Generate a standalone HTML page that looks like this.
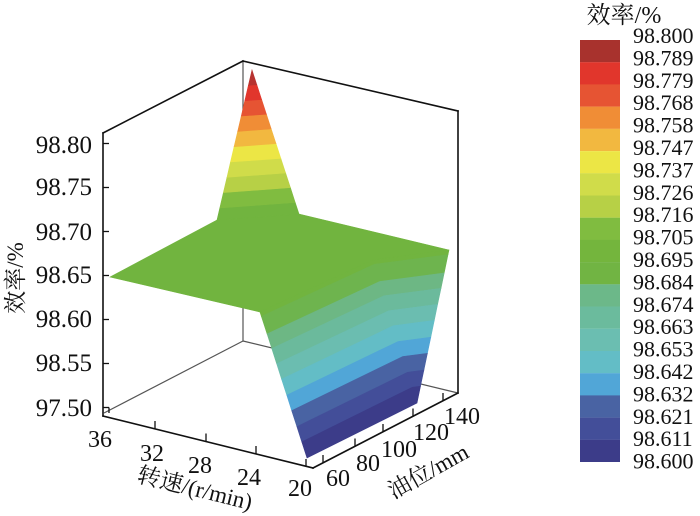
<!DOCTYPE html>
<html>
<head>
<meta charset="utf-8">
<style>
  html, body { margin: 0; padding: 0; background: #ffffff; }
  svg { display: block; }
  text { font-family: "Liberation Serif", "Noto Serif CJK SC", serif; fill: #111; }
</style>
</head>
<body>
<svg width="700" height="516" viewBox="0 0 700 516" xmlns="http://www.w3.org/2000/svg">
  <rect x="0" y="0" width="700" height="516" fill="#ffffff"/>

  <!-- back grid lines (behind surface) -->
  <g stroke="#555" stroke-width="1.2" fill="none">
    <line x1="243" y1="61" x2="243" y2="341"/>
    <line x1="243" y1="341" x2="104" y2="413"/>
    <line x1="243" y1="341" x2="458" y2="393"/>
  </g>

  <!-- flat green plateau -->
  <polygon points="110,277 217,220 299,214 449,250 373,260 260,312" fill="#71b43f" stroke="#71b43f" stroke-width="0.6"/>

  <!-- drop region bands -->
  <g stroke-width="0.6">
    <polygon points="260,312 373,260 449,250 448,254.6 374.3,264.3 261.4,316.4" fill="#71b43f" stroke="#71b43f"/>
    <polygon points="261.4,316.4 374.3,264.3 448,254.6 444.2,273 379.6,281.5 267.1,333.9" fill="#6eb44e" stroke="#6eb44e"/>
    <polygon points="267.1,333.9 379.6,281.5 444.2,273 441,288.3 384,295.8 271.8,348.5" fill="#6db784" stroke="#6db784"/>
    <polygon points="271.8,348.5 384,295.8 441,288.3 437.6,304.3 388.6,310.8 276.7,363.8" fill="#6bba9c" stroke="#6bba9c"/>
    <polygon points="276.7,363.8 388.6,310.8 437.6,304.3 434.3,320.4 393.2,325.8 281.6,379.2" fill="#6bbdb0" stroke="#6bbdb0"/>
    <polygon points="281.6,379.2 393.2,325.8 434.3,320.4 430.8,337.2 398.1,341.5 286.8,395.2" fill="#63bdc6" stroke="#63bdc6"/>
    <polygon points="286.8,395.2 398.1,341.5 430.8,337.2 427.4,353.3 402.7,356.5 291.7,410.6" fill="#51a6d7" stroke="#51a6d7"/>
    <polygon points="291.7,410.6 402.7,356.5 427.4,353.3 423.9,370.1 407.5,372.3 296.9,426.6" fill="#4963a3" stroke="#4963a3"/>
    <polygon points="296.9,426.6 407.5,372.3 423.9,370.1 420.5,386.2 412.2,387.3 301.8,441.9" fill="#434e99" stroke="#434e99"/>
    <polygon points="301.8,441.9 412.2,387.3 420.5,386.2 417,403 307,458" fill="#3c3c89" stroke="#3c3c89"/>
  </g>

  <!-- peak bands -->
  <g stroke-width="0.6">
    <polygon points="217,220 299,214 295.2,202.5 219.8,208" fill="#71b43f" stroke="#71b43f"/>
    <polygon points="219.8,208 295.2,202.5 290.4,187.6 223.4,192.6" fill="#80bc40" stroke="#80bc40"/>
    <polygon points="223.4,192.6 290.4,187.6 285.6,173 227,177.3" fill="#b7d046" stroke="#b7d046"/>
    <polygon points="227,177.3 285.6,173 280.8,158.3 230.5,162" fill="#d0dc4a" stroke="#d0dc4a"/>
    <polygon points="230.5,162 280.8,158.3 276,143.6 234.1,146.7" fill="#ece645" stroke="#ece645"/>
    <polygon points="234.1,146.7 276,143.6 271.2,128.9 237.7,131.4" fill="#f2b840" stroke="#f2b840"/>
    <polygon points="237.7,131.4 271.2,128.9 266.4,114.2 241.3,116" fill="#f08d36" stroke="#f08d36"/>
    <polygon points="241.3,116 266.4,114.2 261.6,99.5 244.8,100.8" fill="#e65433" stroke="#e65433"/>
    <polygon points="244.8,100.8 261.6,99.5 256.8,84.7 248.4,85.3" fill="#e1362c" stroke="#e1362c"/>
    <polygon points="248.4,85.3 256.8,84.7 252,70" fill="#b73330" stroke="#b73330"/>
  </g>

  <!-- front box lines -->
  <g stroke="#111" stroke-width="1.6" fill="none" stroke-linecap="square">
    <line x1="103" y1="133" x2="103" y2="416"/>
    <line x1="103" y1="133" x2="243" y2="61"/>
    <line x1="243" y1="61" x2="458" y2="111"/>
    <line x1="458" y1="111" x2="458" y2="393"/>
    <line x1="103" y1="416" x2="313" y2="468"/>
    <line x1="313" y1="468" x2="458" y2="393"/>
  </g>

  <!-- z ticks -->
  <g stroke="#111" stroke-width="1.3">
    <line x1="103" y1="143.5" x2="109" y2="143.5"/>
    <line x1="103" y1="187.5" x2="109" y2="187.5"/>
    <line x1="103" y1="231.5" x2="109" y2="231.5"/>
    <line x1="103" y1="275.5" x2="109" y2="275.5"/>
    <line x1="103" y1="319.5" x2="109" y2="319.5"/>
    <line x1="103" y1="363.5" x2="109" y2="363.5"/>
    <line x1="103" y1="407.5" x2="109" y2="407.5"/>
    <line x1="109" y1="407.5" x2="109" y2="413"/>
  </g>

  <!-- speed ticks -->
  <g stroke="#111" stroke-width="1.3">
    <line x1="155" y1="428.9" x2="155" y2="421"/>
    <line x1="206" y1="441.5" x2="206" y2="433.5"/>
    <line x1="256" y1="453.9" x2="256" y2="446"/>
    <line x1="306" y1="466.3" x2="306" y2="459"/>
  </g>

  <!-- oil ticks -->
  <g stroke="#111" stroke-width="1.3">
    <line x1="323" y1="462.8" x2="323" y2="455"/>
    <line x1="355" y1="446.3" x2="355" y2="438.5"/>
    <line x1="383" y1="431.8" x2="383" y2="424"/>
    <line x1="413" y1="416.3" x2="413" y2="408.5"/>
    <line x1="443" y1="400.8" x2="443" y2="393"/>
  </g>

  <!-- z tick labels -->
  <g font-size="25" text-anchor="end">
    <text x="92" y="153">98.80</text>
    <text x="92" y="195">98.75</text>
    <text x="92" y="240">98.70</text>
    <text x="92" y="283">98.65</text>
    <text x="92" y="327">98.60</text>
    <text x="92" y="371">98.55</text>
    <text x="92" y="416">97.50</text>
  </g>

  <!-- speed tick labels -->
  <g font-size="24" text-anchor="middle">
    <text x="100" y="447">36</text>
    <text x="152" y="461">32</text>
    <text x="200" y="473">28</text>
    <text x="249" y="485">24</text>
    <text x="300" y="496">20</text>
  </g>

  <!-- oil tick labels -->
  <g font-size="24" text-anchor="middle">
    <text x="338" y="486">60</text>
    <text x="368" y="471">80</text>
    <text x="399" y="457">100</text>
    <text x="431" y="440">120</text>
    <text x="462" y="424">140</text>
  </g>

  <!-- axis titles -->
  <text font-size="23" text-anchor="middle" transform="translate(195,488) rotate(14)" y="8">转速/(r/min)</text>
  <text font-size="23" text-anchor="middle" transform="translate(428,471) rotate(-29)" y="8">油位/mm</text>
  <text font-size="23" text-anchor="middle" transform="translate(15,278) rotate(-90)" y="8">效率/%</text>

  <!-- colorbar -->
  <g>
    <rect x="580" y="40" width="40" height="22.3" fill="#a8322d"/>
    <rect x="580" y="62.2" width="40" height="22.3" fill="#e1362c"/>
    <rect x="580" y="84.4" width="40" height="22.3" fill="#e65433"/>
    <rect x="580" y="106.6" width="40" height="22.3" fill="#f08d36"/>
    <rect x="580" y="128.8" width="40" height="22.3" fill="#f2b840"/>
    <rect x="580" y="151.1" width="40" height="22.3" fill="#ece645"/>
    <rect x="580" y="173.3" width="40" height="22.3" fill="#d0dc4a"/>
    <rect x="580" y="195.5" width="40" height="22.3" fill="#b7d046"/>
    <rect x="580" y="217.7" width="40" height="22.3" fill="#80bc40"/>
    <rect x="580" y="239.9" width="40" height="22.3" fill="#74b53d"/>
    <rect x="580" y="262.1" width="40" height="22.3" fill="#71b443"/>
    <rect x="580" y="284.3" width="40" height="22.3" fill="#6cb889"/>
    <rect x="580" y="306.5" width="40" height="22.3" fill="#6bbb9d"/>
    <rect x="580" y="328.7" width="40" height="22.3" fill="#6bbeb1"/>
    <rect x="580" y="351" width="40" height="22.3" fill="#63bdc6"/>
    <rect x="580" y="373.2" width="40" height="22.3" fill="#51a6d7"/>
    <rect x="580" y="395.4" width="40" height="22.3" fill="#4963a3"/>
    <rect x="580" y="417.6" width="40" height="22.3" fill="#434e99"/>
    <rect x="580" y="439.8" width="40" height="22.2" fill="#3c3c89"/>
  </g>

  <text font-size="24" text-anchor="middle" x="624" y="23">效率/%</text>

  <g font-size="22">
    <text x="633" y="43">98.800</text>
    <text x="633" y="65.4">98.789</text>
    <text x="633" y="87.8">98.779</text>
    <text x="633" y="110.2">98.768</text>
    <text x="633" y="132.6">98.758</text>
    <text x="633" y="155">98.747</text>
    <text x="633" y="177.4">98.737</text>
    <text x="633" y="199.8">98.726</text>
    <text x="633" y="222.2">98.716</text>
    <text x="633" y="244.6">98.705</text>
    <text x="633" y="267">98.695</text>
    <text x="633" y="289.4">98.684</text>
    <text x="633" y="311.8">98.674</text>
    <text x="633" y="334.2">98.663</text>
    <text x="633" y="356.6">98.653</text>
    <text x="633" y="379">98.642</text>
    <text x="633" y="401.4">98.632</text>
    <text x="633" y="423.8">98.621</text>
    <text x="633" y="446.2">98.611</text>
    <text x="633" y="468.6">98.600</text>
  </g>
</svg>
</body>
</html>
